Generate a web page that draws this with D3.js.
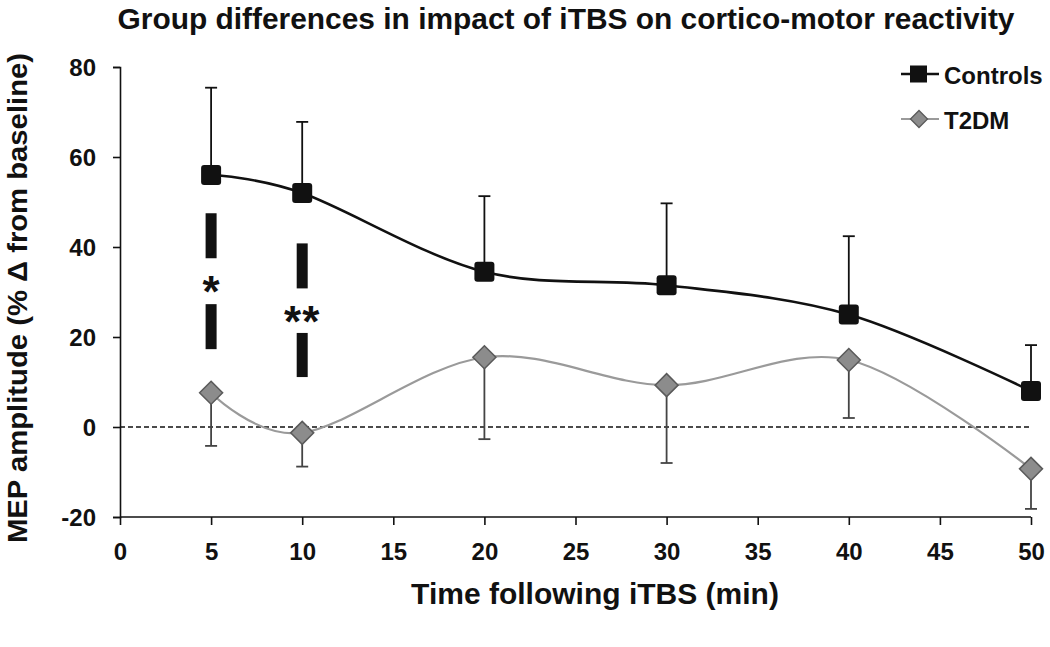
<!DOCTYPE html>
<html>
<head>
<meta charset="utf-8">
<script src="https://cdn.jsdelivr.net/npm/d3@7"></script>
<style>
  html, body { margin: 0; padding: 0; background: #fff; }
  text { font-family: "Liberation Sans", Arial, sans-serif; font-weight: bold; fill: #111; }
</style>
</head>
<body>
<svg id="chart" width="1050" height="647"></svg>
<script>
// ---- data ----
const times = [5, 10, 20, 30, 40, 50];
const controls = [56, 52, 34.5, 31.5, 25, 8];
const controlsErr = [19.4, 15.8, 16.8, 18.2, 17.4, 10.2];
const t2dm = [7.6, -1.3, 15.5, 9.3, 14.9, -9.3];
const t2dmErr = [11.8, 7.5, 18.2, 17.3, 12.9, 8.9];
const xTicks = [0, 5, 10, 15, 20, 25, 30, 35, 40, 45, 50];
const yTicks = [-20, 0, 20, 40, 60, 80];
const sigTimes = [5, 10];
const sigLabels = ["*", "**"];
const sigLabelValue = [32, 25.3];
const sigUpperBar = [[47.5, 37.5], [40.8, 30.8]];
const sigLowerBar = [[27.3, 17.3], [20.9, 11.1]];
const seriesNames = ["Controls", "T2DM"];

// ---- layout ----
const svg = d3.select("#chart");
const x = d3.scaleLinear().domain([0, 50]).range([120, 1031]);
const y = d3.scaleLinear().domain([-20, 80]).range([517, 67]);

// title
svg.append("text").attr("x", 566).attr("y", 29).attr("text-anchor", "middle")
  .style("font-size", "30px").attr("textLength", 897).attr("lengthAdjust", "spacingAndGlyphs")
  .text("Group differences in impact of iTBS on cortico-motor reactivity");

// axes
const fmt = d => String(d);
const yAxis = svg.append("g").attr("transform", `translate(${x(0)},0)`)
  .call(d3.axisLeft(y).tickValues(yTicks).tickSize(7).tickPadding(17).tickFormat(fmt));
const xAxis = svg.append("g").attr("transform", `translate(0,${y(-20)})`)
  .call(d3.axisBottom(x).tickValues(xTicks).tickSize(8).tickPadding(18).tickFormat(fmt));
[yAxis, xAxis].forEach(g => {
  g.select(".domain").attr("stroke", "#111").attr("stroke-width", 1.6);
  g.selectAll(".tick line").attr("stroke", "#111").attr("stroke-width", 1.6);
  g.selectAll(".tick text").style("font-size", "24px").style("font-family", "Liberation Sans, Arial, sans-serif")
    .style("font-weight", "bold").attr("fill", "#111");
});
yAxis.selectAll(".tick text").attr("dy", "0.36em");
xAxis.select(".domain").attr("d", `M${x(0)},0H${x(50)}`);

// axis titles
svg.append("text").attr("x", 595).attr("y", 604).attr("text-anchor", "middle")
  .style("font-size", "30px").text("Time following iTBS (min)");
svg.append("text").attr("transform", "translate(27,298) rotate(-90)").attr("text-anchor", "middle")
  .style("font-size", "28.5px").attr("textLength", 490).attr("lengthAdjust", "spacingAndGlyphs")
  .text("MEP amplitude (% \u0394 from baseline)");

// zero line
svg.append("line").attr("x1", x(0)).attr("x2", x(50)).attr("y1", y(0)).attr("y2", y(0))
  .attr("stroke", "#111").attr("stroke-width", 1.6).attr("stroke-dasharray", "5,3");

// data
const ctrlData = times.map((t, i) => ({ t, v: controls[i], e: controlsErr[i] }));
const t2Data = times.map((t, i) => ({ t, v: t2dm[i], e: t2dmErr[i] }));
const line = d3.line().x(d => x(d.t)).y(d => y(d.v)).curve(d3.curveCardinal.tension(0));

// error bars
function errBars(data, dir, color) {
  const g = svg.append("g").attr("stroke", color).attr("stroke-width", 1.8);
  g.selectAll("line.v").data(data).join("line").attr("class", "v")
    .attr("x1", d => x(d.t)).attr("x2", d => x(d.t))
    .attr("y1", d => y(d.v)).attr("y2", d => y(d.v + dir * d.e));
  g.selectAll("line.c").data(data).join("line").attr("class", "c")
    .attr("x1", d => x(d.t) - 6).attr("x2", d => x(d.t) + 6)
    .attr("y1", d => y(d.v + dir * d.e)).attr("y2", d => y(d.v + dir * d.e));
}
errBars(ctrlData, 1, "#111");
errBars(t2Data, -1, "#444");

// lines
svg.append("path").datum(t2Data).attr("d", line).attr("fill", "none")
  .attr("stroke", "#9a9a9a").attr("stroke-width", 2.2);
svg.append("path").datum(ctrlData).attr("d", line).attr("fill", "none")
  .attr("stroke", "#111").attr("stroke-width", 2.6);

// markers
function square(g, cx, cy) {
  g.append("rect").attr("x", cx - 10).attr("y", cy - 10).attr("width", 20).attr("height", 20)
    .attr("rx", 3).attr("fill", "#111");
}
function diamond(g, cx, cy) {
  const r = 11.5;
  g.append("path").attr("d", `M${cx},${cy - r}L${cx + r},${cy}L${cx},${cy + r}L${cx - r},${cy}Z`)
    .attr("fill", "#8c8c8c").attr("stroke", "#5a5a5a").attr("stroke-width", 1.5);
}
const mk = svg.append("g");
t2Data.forEach(d => diamond(mk, x(d.t), y(d.v)));
ctrlData.forEach(d => square(mk, x(d.t), y(d.v)));

// significance annotations
const sig = svg.append("g");
sigTimes.forEach((t, i) => {
  [sigUpperBar[i], sigLowerBar[i]].forEach(b => {
    sig.append("rect").attr("x", x(t) - 5.5).attr("width", 11)
      .attr("y", y(b[0])).attr("height", y(b[1]) - y(b[0])).attr("fill", "#111");
  });
  sig.append("text").attr("x", x(t)).attr("y", y(sigLabelValue[i]) + 24)
    .attr("text-anchor", "middle").style("font-size", "44px")
    .attr("letter-spacing", i === 1 ? "1px" : "0").text(sigLabels[i]);
});

// legend
const leg = svg.append("g");
[[74, 84], [119, 129]].forEach((p, i) => {
  leg.append("line").attr("x1", 901).attr("x2", 939).attr("y1", p[0]).attr("y2", p[0])
    .attr("stroke", i === 0 ? "#111" : "#9a9a9a").attr("stroke-width", i === 0 ? 2.6 : 2.2);
  if (i === 0) {
    leg.append("rect").attr("x", 910).attr("y", p[0] - 8.5).attr("width", 17).attr("height", 17).attr("fill", "#111");
  } else {
    const r = 8.5, cx = 919, cy = p[0];
    leg.append("path").attr("d", `M${cx},${cy - r}L${cx + r},${cy}L${cx},${cy + r}L${cx - r},${cy}Z`)
      .attr("fill", "#8c8c8c").attr("stroke", "#5a5a5a").attr("stroke-width", 1.3);
  }
  leg.append("text").attr("x", 944).attr("y", p[1]).style("font-size", "24px").text(seriesNames[i]);
});
</script>
</body>
</html>
